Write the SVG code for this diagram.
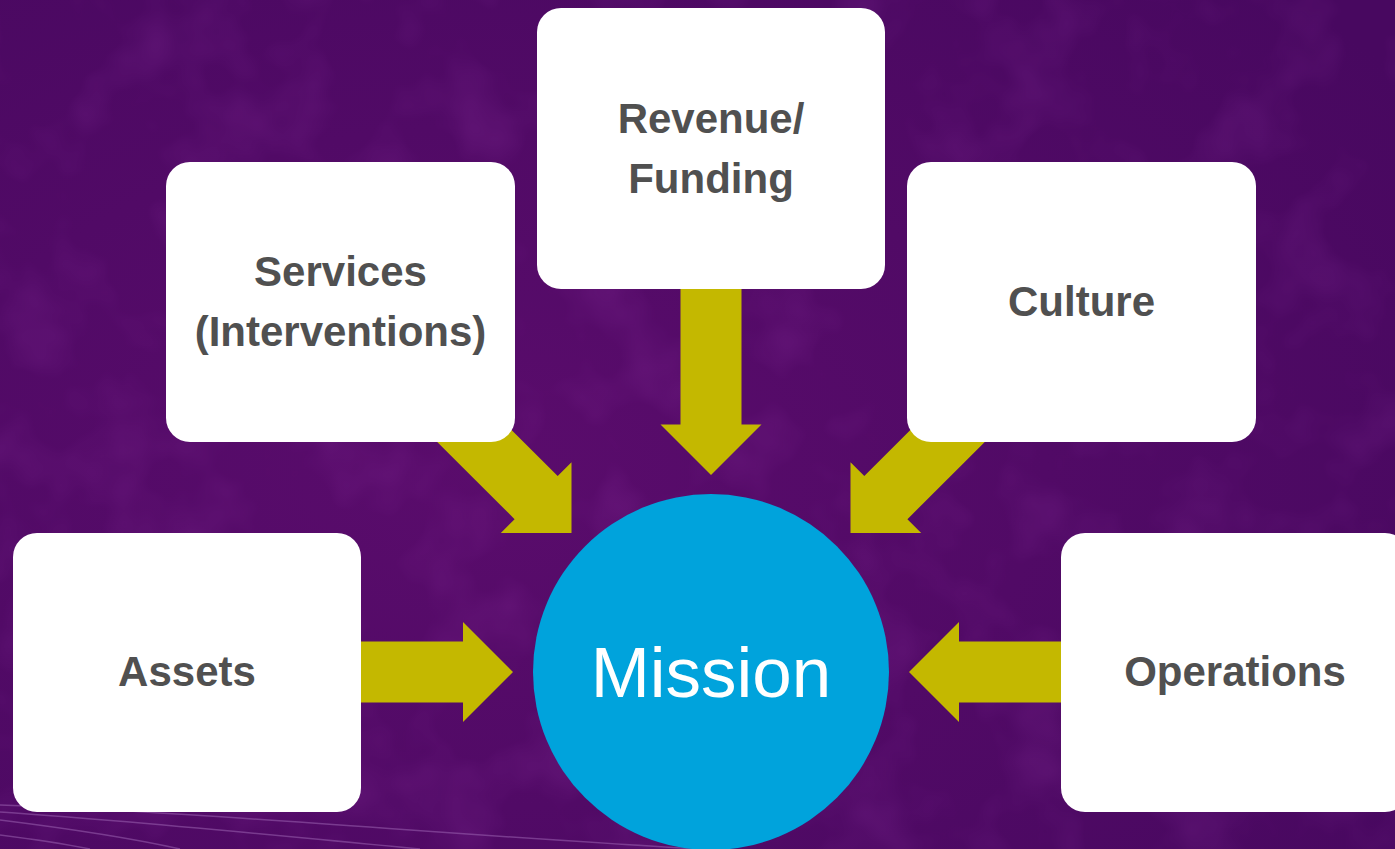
<svg xmlns="http://www.w3.org/2000/svg" width="1395" height="849" viewBox="0 0 1395 849">
<defs>
<radialGradient id="bg" cx="0.35" cy="0.55" r="0.8">
<stop offset="0" stop-color="#5a0c6c"/>
<stop offset="1" stop-color="#480860"/>
</radialGradient>
<filter id="tex" x="0" y="0" width="100%" height="100%">
<feTurbulence type="fractalNoise" baseFrequency="0.012" numOctaves="3" seed="4"/>
<feColorMatrix type="matrix" values="0 0 0 0 0.35  0 0 0 0 0.05  0 0 0 0 0.45  0 0 0 1.2 -0.55"/>
</filter>
<style>
.box{fill:#ffffff}
.lbl{font-family:"Liberation Sans",Arial,sans-serif;font-weight:bold;font-size:42px;fill:#505050;text-anchor:middle}
.arr{fill:#c4b800}
.streak{fill:none;stroke:#9a62b0;stroke-width:1.5;opacity:0.55}
</style>
</defs>
<rect width="1395" height="849" fill="url(#bg)"/>
<rect width="1395" height="849" filter="url(#tex)" opacity="0.35"/>
<g id="streaks">
<path class="streak" d="M0 805 C200 812 450 835 700 849"/>
<path class="streak" d="M0 812 C150 822 300 838 420 849"/>
<path class="streak" d="M0 820 C80 830 140 840 180 849"/>
<path class="streak" d="M0 835 C40 840 70 845 90 849"/>
</g>
<g id="connectors">
<polygon class="arr" points="571.5,533 571.5,462.3 557.7,476.1 472.8,391.3 429.7,434.4 514.6,519.2 500.8,533"/>
<polygon class="arr" points="850.5,533 850.5,462.3 864.3,476.1 949.2,391.3 992.3,434.4 907.4,519.2 921.2,533"/>
<polygon class="arr" points="680.5,270 741.5,270 741.5,424.5 761.5,424.5 711,475 660.5,424.5 680.5,424.5"/>
<polygon class="arr" points="350,641.5 463,641.5 463,622 513,672 463,722 463,702.5 350,702.5"/>
<polygon class="arr" points="1072,641.5 959,641.5 959,622 909,672 959,722 959,702.5 1072,702.5"/>
</g>
<g id="node-revenue">
<rect class="box" x="537" y="8" width="348" height="281" rx="24"/>
<text class="lbl" x="711" y="133">Revenue/</text>
<text class="lbl" x="711" y="193">Funding</text>
</g>
<g id="node-services">
<rect class="box" x="166" y="162" width="349" height="280" rx="24"/>
<text class="lbl" x="340.5" y="286">Services</text>
<text class="lbl" x="340.5" y="346">(Interventions)</text>
</g>
<g id="node-culture">
<rect class="box" x="907" y="162" width="349" height="280" rx="24"/>
<text class="lbl" x="1081.5" y="316">Culture</text>
</g>
<g id="node-assets">
<rect class="box" x="13" y="533" width="348" height="279" rx="24"/>
<text class="lbl" x="187" y="686">Assets</text>
</g>
<g id="node-operations">
<rect class="box" x="1061" y="533" width="348" height="279" rx="24"/>
<text class="lbl" x="1235" y="686">Operations</text>
</g>
<g id="node-mission">
<circle cx="711" cy="672" r="178" fill="#00a3dc"/>
<text x="711" y="697" text-anchor="middle" font-family="'Liberation Sans',Arial,sans-serif" font-size="71" fill="#ffffff">Mission</text>
</g>
</svg>
